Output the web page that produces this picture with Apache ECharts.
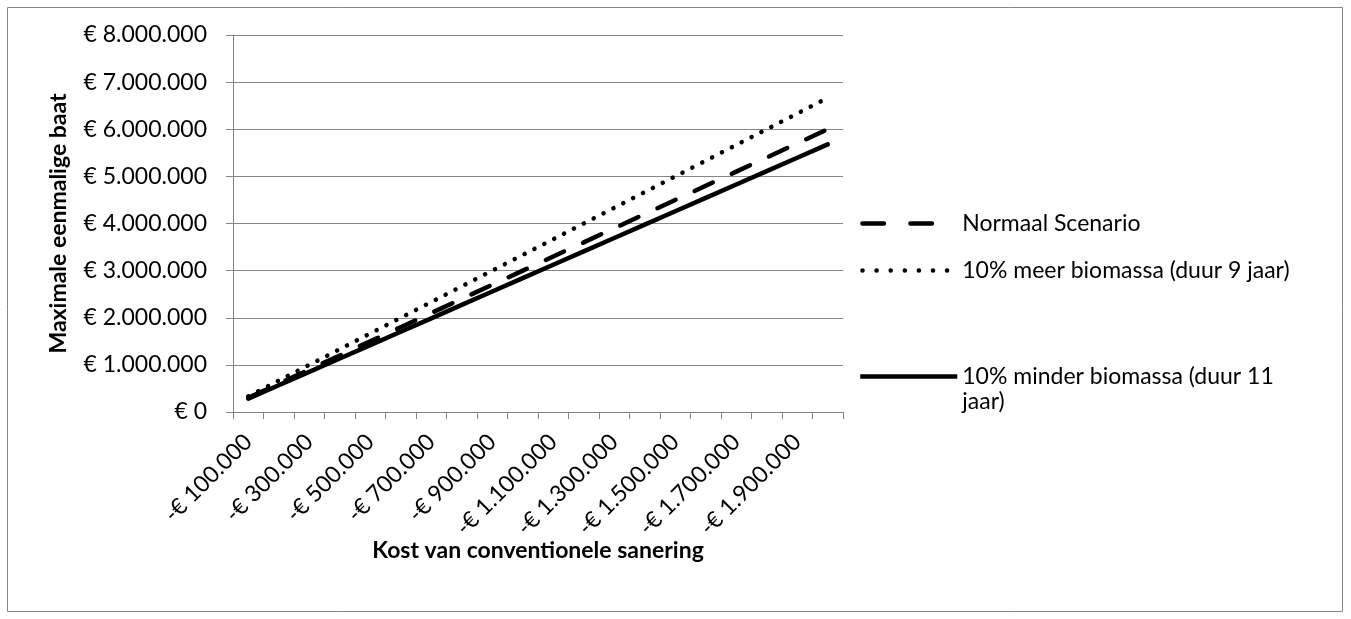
<!DOCTYPE html>
<html>
<head>
<meta charset="utf-8">
<script src="https://cdn.jsdelivr.net/npm/echarts@6/dist/echarts.min.js"></script>
<style>
html,body{margin:0;padding:0;background:#fff;}
#chart{width:1351px;height:619px;}
</style>
</head>
<body>
<div id="chart"></div>
<script>
var categories = ['-€ 100.000','-€ 200.000','-€ 300.000','-€ 400.000','-€ 500.000','-€ 600.000','-€ 700.000','-€ 800.000','-€ 900.000','-€ 1.000.000','-€ 1.100.000','-€ 1.200.000','-€ 1.300.000','-€ 1.400.000','-€ 1.500.000','-€ 1.600.000','-€ 1.700.000','-€ 1.800.000','-€ 1.900.000','-€ 2.000.000'];
var normaal = [300000,600000,900000,1200000,1500000,1800000,2100000,2400000,2700000,3000000,3300000,3600000,3900000,4200000,4500000,4800000,5100000,5400000,5700000,6000000];
var meer = [333000,667000,1000000,1333000,1667000,2000000,2333000,2667000,3000000,3333000,3667000,4000000,4333000,4667000,5000000,5333000,5667000,6000000,6333000,6667000];
var minder = [284000,568000,852000,1136000,1420000,1704000,1988000,2272000,2556000,2840000,3124000,3408000,3692000,3976000,4260000,4544000,4828000,5112000,5396000,5680000];
var yTicks = ['€ 0','€ 1.000.000','€ 2.000.000','€ 3.000.000','€ 4.000.000','€ 5.000.000','€ 6.000.000','€ 7.000.000','€ 8.000.000'];
var names = ['Normaal Scenario','10% meer biomassa (duur 9 jaar)','10% minder biomassa (duur 11 jaar)'];

var FONT = 'Lato, "Open Sans", sans-serif';
var FS = 23;
var gray = '#868686';
var chart = echarts.init(document.getElementById('chart'), null, {renderer:'canvas'});

function legendCfg(name, top, lineStyle, fmt) {
  return {
    show: true, data: [name], left: 858, top: top, orient: 'vertical', padding: 0,
    itemWidth: 97, itemHeight: 14, selectedMode: false,
    itemStyle: {opacity: 0},
    lineStyle: lineStyle,
    textStyle: {fontFamily: FONT, fontSize: FS, color: '#000', lineHeight: 25},
    formatter: fmt || function(n){ return n; }
  };
}

var option = {
  animation: false,
  backgroundColor: '#fff',
  textStyle: {fontFamily: FONT},
  grid: {left: 233, right: 508, top: 35, bottom: 207, containLabel: false},
  legend: [
    legendCfg(names[0], 211, {width: 4.5, type: [21.5, 26.5], cap: 'round', dashOffset: -2.2}),
    legendCfg(names[1], 258, {width: 4.5, type: [0.1, 14], cap: 'round', dashOffset: -2.2}),
    legendCfg(names[2], 339, {width: 4.5, type: 'solid', cap: 'butt'},
      function(){ return '\n10% minder biomassa (duur 11\njaar)'; })
  ],
  xAxis: {
    type: 'category', data: categories, boundaryGap: true,
    axisLine: {lineStyle: {color: gray, width: 1}},
    axisTick: {show: true, length: 7, interval: 0, lineStyle: {color: gray}},
    axisLabel: {rotate: 45, interval: 1, fontFamily: FONT, fontSize: FS, color: '#000', margin: 26},
    name: 'Kost van conventionele sanering', nameLocation: 'middle', nameGap: 127,
    nameMoveOverlap: false,
    nameTextStyle: {fontFamily: FONT, fontSize: FS, fontWeight: 'bold', color: '#000'},
    splitLine: {show: false}
  },
  yAxis: {
    type: 'value', min: 0, max: 8000000, interval: 1000000,
    axisLine: {show: true, lineStyle: {color: gray, width: 1}},
    axisTick: {show: true, length: 7, inside: false, lineStyle: {color: gray}},
    axisLabel: {fontFamily: FONT, fontSize: FS, color: '#000', margin: 26,
      formatter: function(v){ return yTicks[Math.round(v/1000000)]; }},
    splitLine: {show: true, lineStyle: {color: gray, width: 1}},
    name: 'Maximale eenmalige baat', nameLocation: 'middle', nameGap: 163, nameRotate: 90,
    nameMoveOverlap: false,
    nameTextStyle: {fontFamily: FONT, fontSize: FS, fontWeight: 'bold', color: '#000'}
  },
  series: [
    {name: names[0], type: 'line', data: normaal, symbol: 'none', z: 3,
      lineStyle: {color: '#000', width: 4.5, type: [20, 21], cap: 'round'}, itemStyle: {color: '#000'}},
    {name: names[1], type: 'line', data: meer, symbol: 'none', z: 3,
      lineStyle: {color: '#000', width: 4.5, type: [0.1, 11], cap: 'round'}, itemStyle: {color: '#000'}},
    {name: names[2], type: 'line', data: minder, symbol: 'none', z: 3,
      lineStyle: {color: '#000', width: 4.5, type: 'solid', cap: 'round'}, itemStyle: {color: '#000'}}
  ],
  graphic: [{
    type: 'rect', shape: {x: 7.5, y: 7.5, width: 1335, height: 604}, silent: true, z: -1,
    style: {fill: 'none', stroke: gray, lineWidth: 1}
  }]
};
chart.setOption(option);
</script>
</body>
</html>
